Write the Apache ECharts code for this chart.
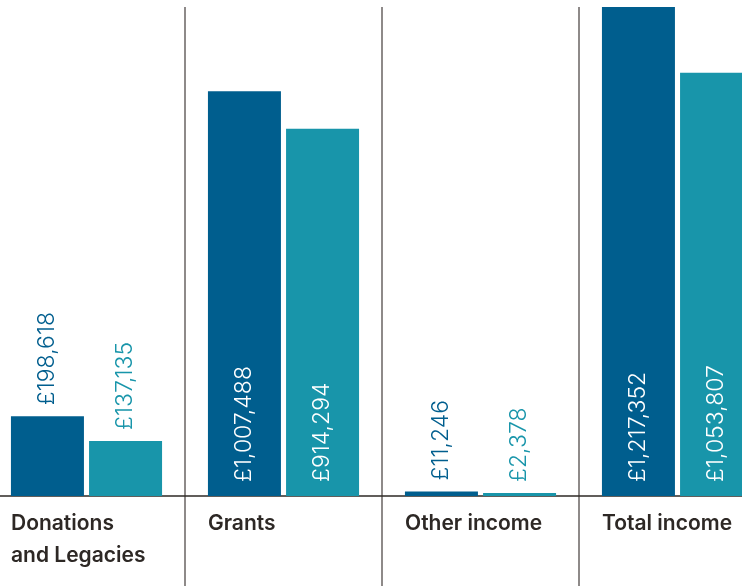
<!DOCTYPE html>
<html>
<head>
<meta charset="utf-8">
<script src="https://cdn.jsdelivr.net/npm/echarts@6/dist/echarts.min.js"></script>
<style>
  html, body { margin: 0; padding: 0; background: #fff; }
  #myChart { width: 742px; height: 586px; }
</style>
</head>
<body>
<div id="myChart"></div>
<script>
const categories = ['Donations\nand Legacies', 'Grants', 'Other income', 'Total income'];
const currentYear = [198618, 1007488, 11246, 1217352];
const priorYear = [137135, 914294, 2378, 1053807];

const darkBlue = '#005e8e';
const teal = '#1895aa';
const textColor = '#2d2825';

const myChart = echarts.init(document.getElementById('myChart'));

// zero line sits 90px above the bottom of a 579px tall grid
const yMax = Math.max(...currentYear, ...priorYear);
const yMin = -yMax * 90 / 489;

const money = p => '£' + String(p.value).replace(/\B(?=(\d{3})+(?!\d))/g, ',');

function labelFor(v, color) {
    if (v > 500000) {
        return { show: true, position: 'insideBottom', rotate: 90, align: 'left', verticalAlign: 'middle', distance: 14, color: '#fff' };
    }
    return { show: true, position: 'top', rotate: 90, align: 'left', verticalAlign: 'middle', distance: 11, color: color };
}

const option = {
    animation: false,
    grid: { left: -12, right: -34, top: 7, bottom: 0, containLabel: false, outerBoundsMode: 'none' },
    xAxis: {
        type: 'category',
        data: categories,
        axisTick: { show: false },
        axisLine: { onZero: true, lineStyle: { color: textColor, width: 1.5 } },
        splitLine: { show: true, lineStyle: { color: '#8e8a89', width: 2 } },
        axisLabel: {
            interval: 0,
            width: 151,
            align: 'center',
            verticalAlign: 'top',
            margin: -78,
            hideOverlap: false,
            formatter: v => v.split('\n').map(s => '{a|' + s + '}').join('\n'),
            rich: {
                a: { align: 'left', fontSize: 21, fontFamily: 'Inter', fontWeight: 600, color: textColor, lineHeight: 32 }
            }
        }
    },
    yAxis: {
        type: 'value',
        min: yMin,
        max: yMax,
        show: false,
        splitLine: { show: false }
    },
    series: [
        {
            name: 'Current year',
            type: 'bar',
            barWidth: 73,
            barGap: '7%',
            barMinHeight: 3,
            itemStyle: { color: darkBlue },
            label: { fontSize: 23, fontFamily: 'Inter', fontWeight: 300, formatter: money },
            data: currentYear.map(v => ({ value: v, label: labelFor(v, darkBlue) }))
        },
        {
            name: 'Prior year',
            type: 'bar',
            barWidth: 73,
            barMinHeight: 3,
            itemStyle: { color: teal },
            label: { fontSize: 23, fontFamily: 'Inter', fontWeight: 300, formatter: money },
            data: priorYear.map(v => ({ value: v, label: labelFor(v, teal) }))
        }
    ]
};

myChart.setOption(option);
</script>
</body>
</html>
